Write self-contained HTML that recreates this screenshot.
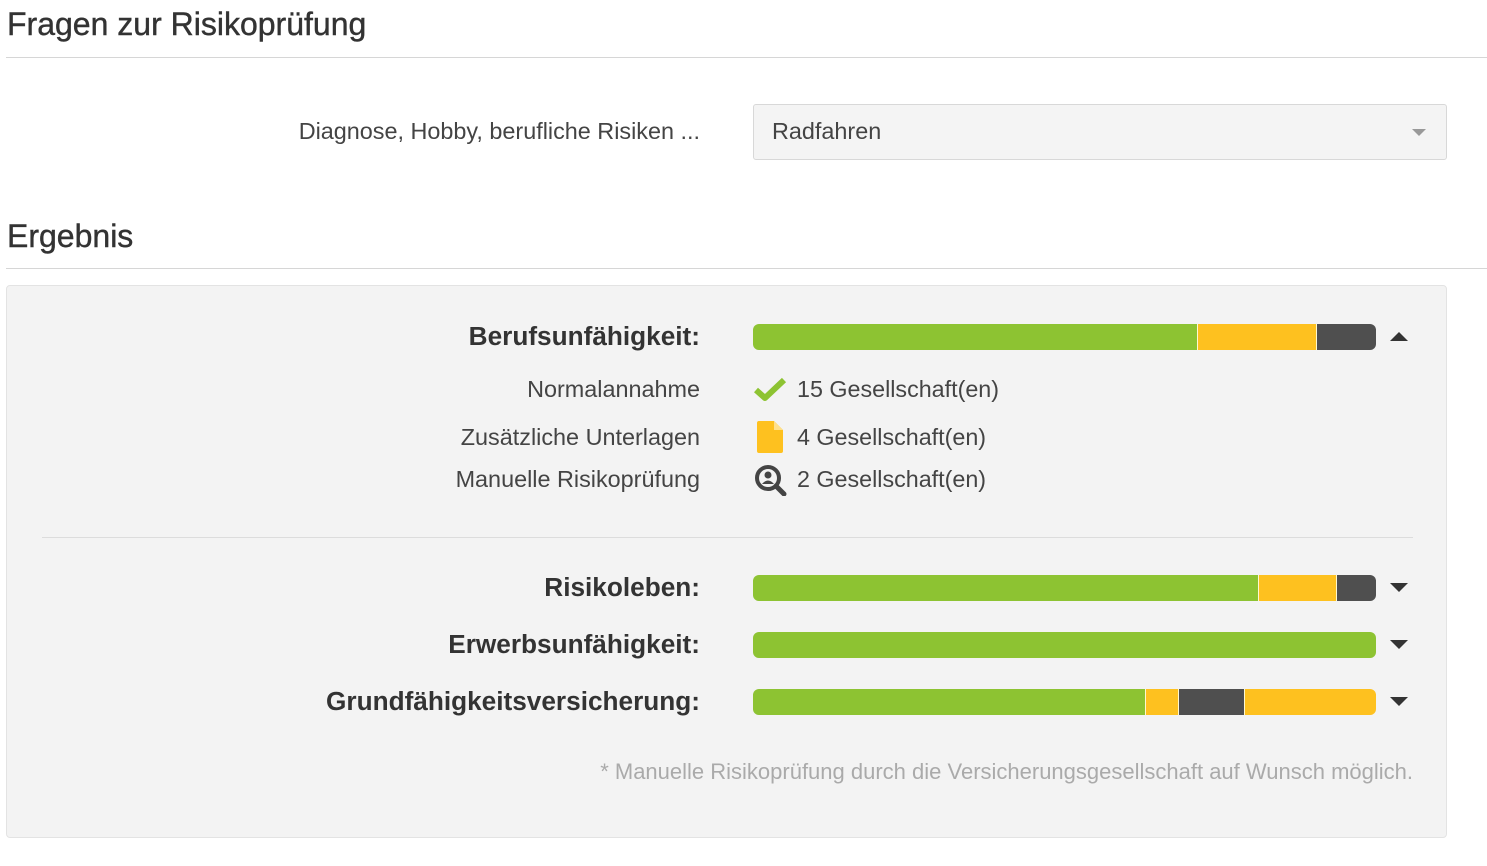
<!DOCTYPE html>
<html><head><meta charset="utf-8">
<style>
body{margin:0;width:1487px;height:866px;background:#fff;font-family:"Liberation Sans","DejaVu Sans",sans-serif;color:#333;position:relative;overflow:hidden}
.a{position:absolute}
h2{position:absolute;margin:0;font-weight:normal;font-size:32px;color:#333;left:7px;-webkit-text-stroke:0.4px #333}
.hr{position:absolute;left:6px;width:1481px;height:1px;background:#d6d6d6}
.lbl{position:absolute;right:787px;font-size:23.4px;color:#444;white-space:nowrap}
.big{font-weight:bold;font-size:26.2px;color:#333}
.bar{position:absolute;left:753px;width:623px;height:26px;border-radius:6px;overflow:hidden;display:flex;box-shadow:inset 0 -2px 0 rgba(0,0,0,0.08)}
.bar div{height:100%;box-sizing:border-box;border-right:1px solid #fff8d0}
.bar div:last-child{border-right:none}
.tri{position:absolute;left:1390px;width:0;height:0;border-left:9px solid transparent;border-right:9px solid transparent}
.cnt{position:absolute;left:797px;font-size:23.3px;color:#444;white-space:nowrap}
</style></head><body>
<h2 style="top:6px">Fragen zur Risikoprüfung</h2>
<div class="hr" style="top:57px"></div>
<div class="lbl" style="top:118px">Diagnose, Hobby, berufliche Risiken ...</div>
<div class="a" style="left:753px;top:104px;width:692px;height:54px;border:1px solid #d8d8d8;border-radius:3px;background:#f4f4f4">
<span class="a" style="left:18px;top:13px;font-size:23.4px;color:#444">Radfahren</span>
<span class="a" style="left:658px;top:24px;border-left:7px solid transparent;border-right:7px solid transparent;border-top:7px solid #999"></span>
</div>
<h2 style="top:218px">Ergebnis</h2>
<div class="hr" style="top:268px"></div>
<div class="a" style="left:6px;top:285px;width:1439px;height:551px;background:#f3f3f3;border:1px solid #e3e3e3;border-radius:4px"></div>
<div class="a" style="left:42px;top:537px;width:1371px;height:1px;background:#dcdcdc"></div>

<div class="lbl" style="top:376px">Normalannahme</div>
<div class="lbl" style="top:424px">Zusätzliche Unterlagen</div>
<div class="lbl" style="top:466px">Manuelle Risikoprüfung</div>
<svg class="a" style="left:754px;top:377px" width="32" height="24"><path d="M2 13 L11 21 L30 3" stroke="#8dc332" stroke-width="6" fill="none" stroke-linejoin="round"/></svg>
<svg class="a" style="left:757px;top:421px" width="26" height="32"><path d="M2 0 H17 L26 9 V30 Q26 32 24 32 H2 Q0 32 0 30 V2 Q0 0 2 0Z" fill="#fec11f"/><path d="M17 0 V9 H26Z" fill="#ffe08a"/></svg>
<svg class="a" style="left:754px;top:464px" width="34" height="32"><circle cx="14" cy="14" r="11" stroke="#444" stroke-width="4" fill="none"/><circle cx="14" cy="11" r="3.5" fill="#444"/><path d="M8 20 Q14 13 20 20Z" fill="#444"/><path d="M22 22 L30 30" stroke="#444" stroke-width="5" stroke-linecap="round"/></svg>
<div class="cnt" style="top:376px">15 Gesellschaft(en)</div>
<div class="cnt" style="top:424px">4 Gesellschaft(en)</div>
<div class="cnt" style="top:466px">2 Gesellschaft(en)</div>

<div class="a" style="right:74px;top:759px;font-size:22px;color:#aaa;white-space:nowrap">* Manuelle Risikoprüfung durch die Versicherungsgesellschaft auf Wunsch möglich.</div>

<div id="rows"></div>
<script>
const categories=["Berufsunfähigkeit:","Risikoleben:","Erwerbsunfähigkeit:","Grundfähigkeitsversicherung:"];
const segTypes=[["g","y","d"],["g","y","d"],["g"],["g","y","d","y"]];
const segValues=[[15,4,2],[13,2,1],[1],[12,1,2,4]];
const expanded=[true,false,false,false];
const rowTops=[337,588,645,702];
const colors={g:"#8dc332",y:"#fec11f",d:"#4f4f4f"};
const root=document.getElementById('rows');
categories.forEach((c,i)=>{
  const cy=rowTops[i];
  const l=document.createElement('div');
  l.className='lbl big';l.style.top=(cy-16)+'px';l.textContent=c;
  
  
  root.appendChild(l);
  const b=document.createElement('div');
  b.className='bar';b.style.top=(cy-13)+'px';
  
  
  const tot=segValues[i].reduce((a,v)=>a+v,0);
  segValues[i].forEach((v,j)=>{
    const s=document.createElement('div');
    s.style.width=(v/tot*100)+'%';s.style.background=colors[segTypes[i][j]];
    
    
    b.appendChild(s);
  });
  root.appendChild(b);
  const t=document.createElement('div');
  t.className='tri';
  t.style.top=(cy-5)+'px';
  if(expanded[i]){t.style.borderBottom='9px solid #333';}
  else{t.style.borderTop='9px solid #333';}
  
  
  root.appendChild(t);
});
</script>
</body></html>
